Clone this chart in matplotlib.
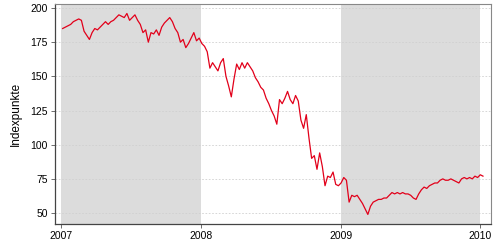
import pandas as pd
import matplotlib
matplotlib.use("Agg")
import matplotlib.pyplot as plt
import matplotlib.dates as mdates

# Wochenwerte
start_date = "2007-01-05"
werte = [
    185, 186, 187, 188, 190, 191, 192, 191, 183, 180,
    177, 182, 185, 184, 186, 188, 190, 188, 190, 191,
    193, 195, 194, 193, 196, 191, 193, 195, 191, 188,
    182, 184, 175, 182, 181, 184, 180, 186, 189, 191,
    193, 190, 185, 182, 175, 177, 171, 174, 178, 182,
    176, 178, 174, 172, 168, 156, 160, 157, 154, 160,
    163, 150, 143, 135, 148, 159, 155, 160, 156, 160,
    157, 154, 149, 146, 142, 140, 134, 130, 125, 121,
    115, 133, 130, 134, 139, 133, 130, 136, 132, 118,
    112, 122, 105, 90, 92, 82, 94, 84, 70, 77,
    76, 80, 71, 70, 72, 76, 74, 58, 63, 62,
    63, 60, 57, 53, 49, 55, 58, 59, 60, 60,
    61, 61, 63, 65, 64, 65, 64, 65, 64, 64,
    63, 61, 60, 64, 67, 69, 68, 70, 71, 72,
    72, 74, 75, 74, 74, 75, 74, 73, 72, 75,
    76, 75, 76, 75, 77, 76, 78, 77,
]
jahre = ["2007", "2008", "2009", "2010"]
y_ticks = [50, 75, 100, 125, 150, 175, 200]
schattiert = [("2007-01-01", "2008-01-01"), ("2009-01-01", "2010-01-01")]

datum = pd.date_range(start_date, periods=len(werte), freq="7D")

plt.rcParams['font.family'] = ['Liberation Sans', 'DejaVu Sans']

fig = plt.figure(figsize=(5, 2.44), dpi=100)
ax = fig.add_axes([0.11, 0.082, 0.872, 0.902])

for a, b in schattiert:
    ax.axvspan(pd.Timestamp(a), pd.Timestamp(b), color="#dcdcdc", lw=0, zorder=0)

for yt in y_ticks:
    ax.axhline(yt, color="#d0d0d0", lw=0.6, ls=(0, (2, 2)), zorder=1)

ax.plot(datum, werte, color="#e2001a", lw=0.9, zorder=3)

ax.set_xlim(pd.Timestamp("2006-12-16"), pd.Timestamp("2010-01-29"))
ax.set_ylim(42, 203)
ax.set_yticks(y_ticks)
ax.set_xticks([pd.Timestamp(j + "-01-01") for j in jahre])
ax.xaxis.set_major_formatter(mdates.DateFormatter("%Y"))
ax.tick_params(labelsize=7.5, length=3, width=0.6, color="#555555", pad=2)
ax.set_ylabel("Indexpunkte", fontsize=8.5, labelpad=6)

for s in ["left", "bottom"]:
    ax.spines[s].set_color("#444444")
    ax.spines[s].set_linewidth(0.9)
for s in ["top", "right"]:
    ax.spines[s].set_color("#888888")
    ax.spines[s].set_linewidth(0.8)

fig.savefig("out.png", dpi=100)
